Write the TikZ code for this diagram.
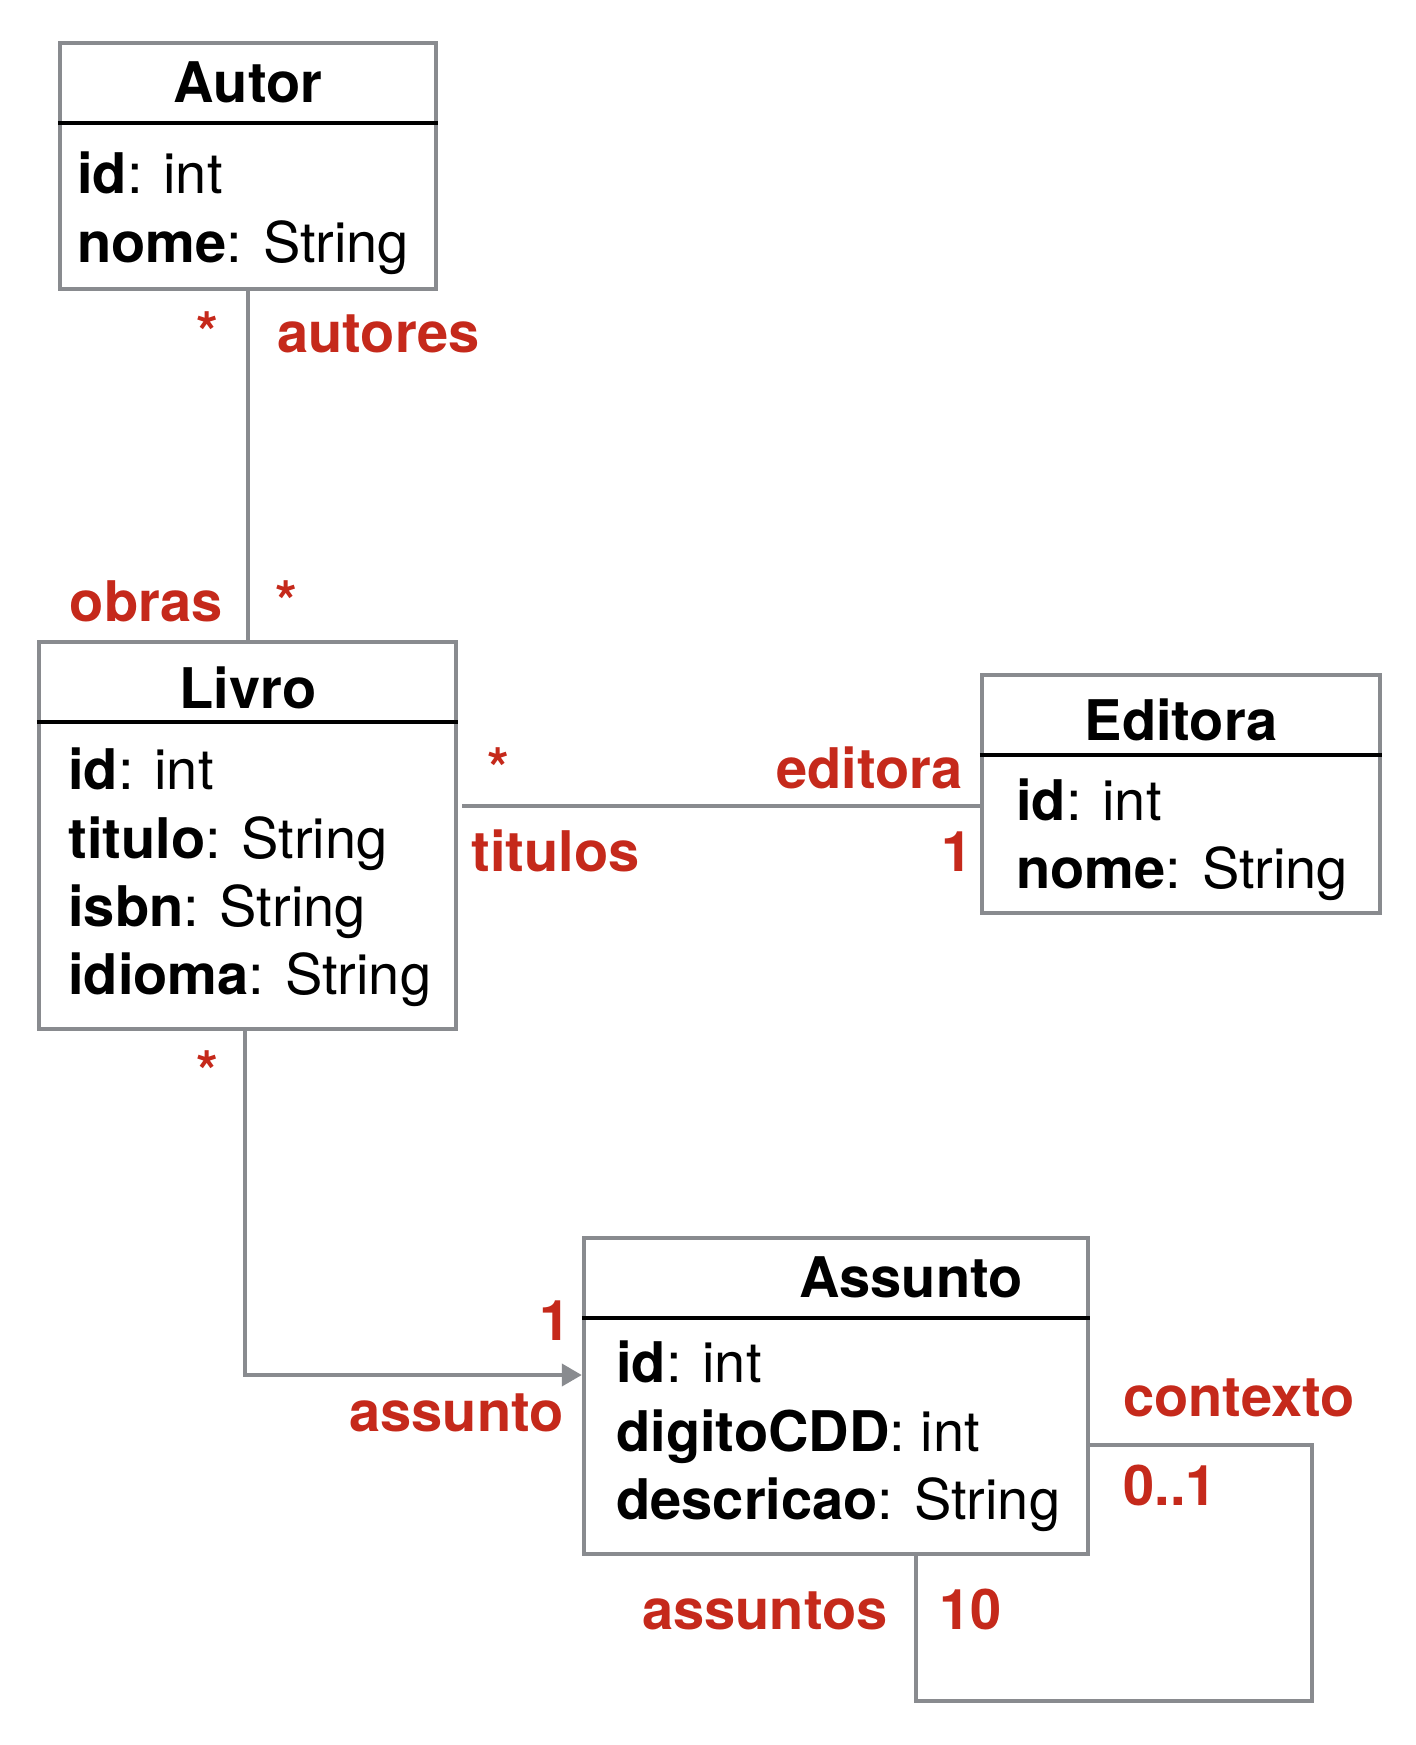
\documentclass[tikz,border=0pt]{standalone}
\usepackage{fontspec}
\setmainfont{TeX Gyre Heros}
\usetikzlibrary{arrows.meta,calc}
\definecolor{frame}{RGB}{137,139,143}
\definecolor{role}{RGB}{197,41,27}
\tikzset{
  cls/.style={draw=frame, line width=2.2pt, fill=white, inner sep=0pt},
  sep/.style={draw=black, line width=1.8pt},
  ttl/.style={font=\fontsize{28}{34}\selectfont\bfseries, anchor=base, inner sep=0pt},
  attr/.style={font=\fontsize{28}{34}\selectfont, anchor=base west, inner sep=0pt},
  lbl/.style={font=\fontsize{28}{34}\selectfont\bfseries, text=role, inner sep=0pt},
  assoc/.style={draw=frame, line width=2pt},
  nav/.style={assoc, -{Triangle[length=10pt, width=11pt]}},
}

\begin{document}
\begin{tikzpicture}[x=0.5pt, y=-0.5pt]
  \useasboundingbox (0,0) rectangle (1415,1745);

  % ---- classes -------------------------------------------------------
  \node[cls, minimum width=188pt, minimum height=123pt] (autor) at (248,166) {};
  \node[cls, minimum width=208.5pt, minimum height=193.5pt] (livro) at (247.5,835.5) {};
  \node[cls, minimum width=199pt, minimum height=119pt] (editora) at (1181,794) {};
  \node[cls, minimum width=252pt, minimum height=158pt] (assunto) at (836,1396) {};
  \foreach \c in {autor,livro,editora,assunto}
    \draw[sep] ([yshift=-41pt]\c.north west) -- ([yshift=-41pt]\c.north east);

  \node[ttl] (autorT) at (248,102) {Autor};
  \node[attr] (autorId) at (77,193) {\textbf{id}: int};
  \node[attr] (autorNome) at (77,262) {\textbf{nome}: String};

  \node[ttl] (livroT) at (248,708) {Livro};
  \node[attr] (livroId) at (68,789) {\textbf{id}: int};
  \node[attr] (livroTitulo) at (68,858) {\textbf{titulo}: String};
  \node[attr] (livroIsbn) at (68,926) {\textbf{isbn}: String};
  \node[attr] (livroIdioma) at (68,994) {\textbf{idioma}: String};

  \node[ttl] (editoraT) at (1181,740) {Editora};
  \node[attr] (editoraId) at (1016,820) {\textbf{id}: int};
  \node[attr] (editoraNome) at (1016,888) {\textbf{nome}: String};

  \node[ttl] (assuntoT) at (911,1297) {Assunto};
  \node[attr] (assuntoId) at (616,1382) {\textbf{id}: int};
  \node[attr] (assuntoDigito) at (616,1451) {\textbf{digitoCDD}: int};
  \node[attr] (assuntoDescr) at (616,1519) {\textbf{descricao}: String};

  % ---- associations --------------------------------------------------
  \coordinate (pub) at ([yshift=-6pt]editora.west);
  \coordinate (subj) at ([yshift=10.5pt]assunto.west);
  \coordinate (ctxOut) at ([yshift=-24.5pt]assunto.east);
  \coordinate (ctxIn) at ([xshift=40pt]assunto.south);

  \draw[assoc] (autor.south) -- (autor.south |- livro.north);
  \draw[assoc, shorten <=2pt] (pub -| livro.east) -- (pub);
  \draw[nav] ([xshift=-1.5pt]livro.south) |- (subj);
  \draw[assoc] (ctxOut) -- ++(222,0) -- ++(0,256) -| (ctxIn);

  % ---- roles and multiplicities --------------------------------------
  \node[lbl, anchor=base] (mAutor) at (207,352) {*};
  \node[lbl, anchor=base west] (rAutores) at (277,352) {autores};
  \node[lbl, anchor=base east] (rObras) at (223,621) {obras};
  \node[lbl, anchor=base] (mObras) at (286,621) {*};
  \node[lbl, anchor=base] (mTitulos) at (498,788) {*};
  \node[lbl, anchor=base east] (rEditora) at (963,788) {editora};
  \node[lbl, anchor=base west] (rTitulos) at (471,871) {titulos};
  \node[lbl, anchor=base east] (mEditora) at (973,871) {1};
  \node[lbl, anchor=base] (mLivro) at (207,1091) {*};
  \node[lbl, anchor=base east] (mAssunto) at (571,1340) {1};
  \node[lbl, anchor=base east] (rAssunto) at (564,1431) {assunto};
  \node[lbl, anchor=base west] (rContexto) at (1123,1416) {contexto};
  \node[lbl, anchor=base west] (mContexto) at (1123,1505) {0..1};
  \node[lbl, anchor=base east] (rAssuntos) at (888,1629) {assuntos};
  \node[lbl, anchor=base west] (mAssuntos) at (939,1629) {10};
\end{tikzpicture}
\end{document}
